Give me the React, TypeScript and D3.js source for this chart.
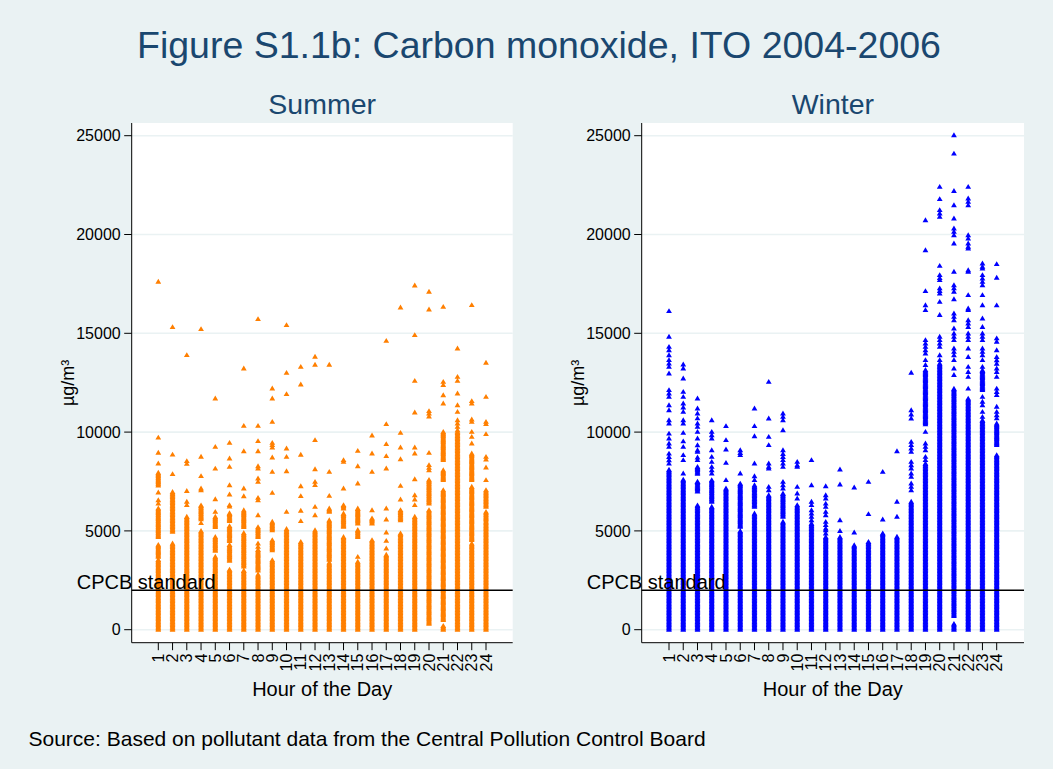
import React from 'react';
import * as d3 from 'd3';

const W = 1053;
const H = 769;

const hours = [1, 2, 3, 4, 5, 6, 7, 8, 9, 10, 11, 12, 13, 14, 15, 16, 17, 18, 19, 20, 21, 22, 23, 24];
const yTicks = [0, 5000, 10000, 15000, 20000, 25000];
const cpcbStandard = 2000;

// Summer: continuous (densely overplotted) value ranges per hour, and isolated readings
const summerDense: number[][][] = [
  [[0, 3550], [3700, 4300], [4700, 6150], [7300, 7950]],
  [[0, 4370], [4960, 6980]],
  [[0, 5720]],
  [[0, 5000], [5600, 6300]],
  [[0, 3700], [4000, 4700], [5200, 5720]],
  [[0, 3050], [3500, 4300], [4500, 5250], [5500, 5900]],
  [[0, 3000], [3200, 4900], [5200, 6050]],
  [[0, 2800], [3000, 4050], [4700, 5200]],
  [[0, 3530], [4030, 4540], [5040, 5470]],
  [[0, 5100]],
  [[0, 4450]],
  [[0, 5040]],
  [[0, 3400], [3550, 5550], [5970, 6140]],
  [[0, 4700], [5210, 5890], [6140, 6310]],
  [[0, 3450], [4700, 5050], [5380, 6140]],
  [[0, 4540], [5380, 5640]],
  [[0, 3800]],
  [[0, 4880], [5550, 6060]],
  [[0, 5720]],
  [[300, 6060], [6390, 7590]],
  [[0, 200], [500, 7070], [7575, 8080], [8590, 10020]],
  [[0, 10020]],
  [[0, 4370], [4540, 7240], [7575, 8924]],
  [[0, 5470], [5550, 5970], [6225, 7070]],
];
const summerPoints: number[][] = [
  [17614, 9730, 8960, 8420, 6950, 6560, 6390],
  [15320, 8870, 7880],
  [13904, 8540, 8400, 7030, 6480, 6310],
  [15220, 8760, 7780, 7150, 7060, 5400],
  [11710, 9260, 8160, 6610, 5970],
  [9460, 8670, 8250, 7320, 6850, 6310, 6240],
  [13230, 10325, 9040, 7150, 6760],
  [15726, 10325, 9550, 9040, 8280, 8160, 7660, 7490, 6680, 6560, 5800, 4370, 4200],
  [12214, 11708, 10527, 9464, 9346, 9228, 8722, 7997, 6934],
  [15422, 13007, 11927, 9177, 8755, 8030, 5972],
  [13310, 12416, 8860, 7271, 6765, 6030, 5500],
  [13818, 13413, 9600, 8131, 7490, 7322, 6225, 5803],
  [13413, 7997, 6782],
  [8587, 8503, 7153],
  [9059, 8283, 7406, 3694],
  [9835, 8924, 7997, 6056],
  [14626, 10409, 9397, 8790, 8165, 6141, 5584, 4926, 4505, 4117],
  [16313, 9970, 9228, 8637, 7288, 6596],
  [17430, 14913, 12602, 10999, 9228, 8924, 7625, 6815, 6600, 6310],
  [17110, 16212, 11067, 10950, 10800, 8958, 8334, 8200, 8080],
  [16347, 12551, 12383, 11876, 11455],
  [14238, 12804, 12602, 11961, 11370, 11033, 10611, 10442, 10270, 10105],
  [16431, 11573, 11455, 10645, 10527, 10021, 9768, 9430],
  [13515, 11792, 10527, 10409, 9903, 8755, 8620, 8215, 7575],
];

// Winter
const winterDense: number[][][] = [
  [[0, 8100]],
  [[0, 7600]],
  [[0, 6300], [7000, 7500], [7900, 8250]],
  [[0, 6230], [6480, 7575]],
  [[0, 7150]],
  [[0, 5000], [5210, 7400]],
  [[0, 5890], [6225, 7320]],
  [[0, 6815]],
  [[0, 5470], [5720, 6900]],
  [[0, 6310]],
  [[0, 5380]],
  [[0, 4700]],
  [[0, 4700]],
  [[0, 4280]],
  [[0, 4450]],
  [[0, 4880]],
  [[0, 4710]],
  [[0, 6480]],
  [[0, 8420], [10400, 13150]],
  [[0, 13480]],
  [[0, 300], [700, 12200]],
  [[0, 11700]],
  [[0, 10610], [12130, 13140]],
  [[0, 8840], [9350, 10440]],
];
const winterPoints: number[][] = [
  [16130, 14830, 14320, 14150, 13900, 13650, 13475, 13310, 12970, 12130, 11960, 11790, 11370, 11117, 10610, 10440, 9930, 9680, 9430, 9260, 8920, 8750, 8580, 8410],
  [13430, 13230, 12720, 12045, 11790, 11455, 11250, 11033, 10610, 10440, 9967, 9540, 9260, 8840, 8587, 7912],
  [11710, 11200, 10950, 10700, 10440, 10270, 10020, 9680, 9345, 9090, 9010, 8720, 8590],
  [10610, 10020, 9850, 9680, 9090, 8755, 8500, 8250, 8080, 7910],
  [10310, 9600, 9130, 8450, 7575],
  [9090, 8950, 8840, 7910],
  [11200, 10310, 9800, 8420, 7777, 7575],
  [12550, 10695, 9768, 9346, 8418, 8250, 8165, 7237, 7068],
  [10950, 10780, 10610, 10100, 9090, 8900, 8750, 8590, 8420, 8250, 7490, 7320, 7150],
  [8500, 8330, 8250, 7237, 6900, 6650],
  [8590, 7320, 6480, 6310, 6056, 5890, 5720, 5550],
  [7270, 6815, 6650, 6390, 6225, 5972, 5803, 5466, 5300, 5128, 5044, 4875],
  [8115, 7355, 5550, 5000],
  [7203, 4926],
  [7490, 5854],
  [7996, 5584],
  [9040, 6480, 5720],
  [13010, 11117, 10900, 10695, 9515, 9350, 9180, 9009, 8500, 8330, 8165, 7912, 7743, 7406, 7237, 7068],
  [20730, 19210, 17140, 16430, 16180, 14660, 14490, 14320, 14150, 13985, 13650, 13400, 10020, 9430, 9260, 9090, 8755, 8587],
  [22420, 21800, 21240, 21070, 20900, 18420, 17950, 17800, 17700, 17280, 17150, 17020, 16600, 15930, 14830, 14660, 14490, 14320, 13900, 13650],
  [25030, 24100, 22210, 21490, 20820, 20310, 20140, 19970, 19550, 18120, 17440, 17280, 17110, 16730, 16010, 15840, 15670, 15250, 15000, 14830, 14660, 14240, 14070, 13900, 13650, 13226, 12900],
  [22420, 21830, 21660, 21490, 19970, 19800, 19550, 19380, 19300, 18200, 18120, 16940, 16260, 16180, 15670, 15500, 15330, 15000, 14830, 14660, 14240, 13810, 13310, 13050, 12800, 12210],
  [18540, 18370, 18290, 17950, 17780, 17610, 17440, 16940, 16430, 15760, 15330, 15000, 14830, 14660, 14240, 14070, 13900, 13650, 13310, 11790, 11540, 11370, 11030, 10780],
  [18510, 17820, 16420, 14750, 14580, 14150, 13810, 13640, 13470, 13230, 13050, 12800, 12210, 12040, 11880, 11290, 11030, 10860, 10700],
];

const FONT = '"Liberation Sans", Arial, Helvetica, sans-serif';
const BG = '#EAF2F3';
const GRID = '#EAF2F3';

const PLOT_TOP = 123;
const PLOT_BOTTOM = 642.7;
const y = d3.scaleLinear().domain([0, 25000]).range([629.7, 135.7]);

const TRI_HW = 2.9;
const TRI_UP = 2.8;
const TRI_DN = 2.1;
const tri = (cx: number, cy: number) =>
  `M${cx.toFixed(2)},${(cy - TRI_UP).toFixed(2)}L${(cx + TRI_HW).toFixed(2)},${(cy + TRI_DN).toFixed(2)}L${(cx - TRI_HW).toFixed(2)},${(cy + TRI_DN).toFixed(2)}Z`;

interface PanelProps {
  left: number;
  right: number;
  firstX: number;
  lastX: number;
  title: string;
  dense: number[][][];
  points: number[][];
  color: string;
}

function Panel({ left, right, firstX, lastX, title, dense, points, color }: PanelProps) {
  const x = d3.scaleLinear().domain([1, 24]).range([firstX, lastX]);
  const center = (left + right) / 2;
  let d = '';
  hours.forEach((h, i) => {
    const cx = x(h);
    dense[i].forEach(([lo, hi]) => {
      const y0 = y(lo);
      const y1 = y(hi);
      for (let py = y0; py >= y1; py -= 1.2) d += tri(cx, py);
      d += tri(cx, y1);
    });
    points[i].forEach((v) => {
      d += tri(cx, y(v));
    });
  });
  const ys = y(cpcbStandard);
  return (
    <g>
      <rect x={left} y={PLOT_TOP} width={right - left} height={PLOT_BOTTOM - PLOT_TOP} fill="#FFFFFF" />
      {yTicks.map((t) => (
        <line key={'g' + t} x1={left} x2={right} y1={y(t)} y2={y(t)} stroke={GRID} strokeWidth={1.6} />
      ))}
      <path d={d} fill={color} />
      <line x1={left} x2={right} y1={ys} y2={ys} stroke="#000" strokeWidth={1.4} />
      <text x={left - 55} y={ys - 1.5} fontFamily={FONT} fontSize={20} fill="#000">
        CPCB standard
      </text>
      <line x1={left} x2={left} y1={PLOT_TOP} y2={PLOT_BOTTOM} stroke="#000" strokeWidth={1} />
      <line x1={left} x2={right} y1={PLOT_BOTTOM} y2={PLOT_BOTTOM} stroke="#000" strokeWidth={1} />
      {yTicks.map((t) => (
        <g key={'t' + t}>
          <line x1={left - 7.5} x2={left} y1={y(t)} y2={y(t)} stroke="#000" strokeWidth={1} />
          <text x={left - 11} y={y(t)} dy="0.35em" textAnchor="end" fontFamily={FONT} fontSize={16} fill="#000">
            {t}
          </text>
        </g>
      ))}
      {hours.map((h) => (
        <g key={'x' + h}>
          <line x1={x(h)} x2={x(h)} y1={PLOT_BOTTOM} y2={PLOT_BOTTOM + 7.5} stroke="#000" strokeWidth={1} />
          <text
            transform={`translate(${x(h)},${PLOT_BOTTOM + 11}) rotate(-90)`}
            textAnchor="end"
            dy="0.35em"
            fontFamily={FONT}
            fontSize={16}
            fill="#000"
          >
            {h}
          </text>
        </g>
      ))}
      <text x={center} y={696} textAnchor="middle" fontFamily={FONT} fontSize={20} fill="#000">
        Hour of the Day
      </text>
      <text
        transform={`translate(${left - 58},${(PLOT_TOP + PLOT_BOTTOM) / 2}) rotate(-90)`}
        textAnchor="middle"
        fontFamily={FONT}
        fontSize={18}
        fill="#000"
      >
        µg/m³
      </text>
      <text x={center} y={114} textAnchor="middle" fontFamily={FONT} fontSize={28.5} fill="#1a476f">
        {title}
      </text>
    </g>
  );
}

export default function App() {
  return (
    <div style={{ position: 'absolute', left: 0, top: 0, width: W, height: H }}>
      <svg width={W} height={H} viewBox={`0 0 ${W} ${H}`} style={{ display: 'block' }}>
        <rect x={0} y={0} width={W} height={H} fill={BG} />
        <text x={539} y={58} textAnchor="middle" fontFamily={FONT} fontSize={37.5} fill="#1a476f">
          Figure S1.1b: Carbon monoxide, ITO 2004-2006
        </text>
        <Panel left={131.7} right={512.7} firstX={158.3} lastX={486} title="Summer" dense={summerDense} points={summerPoints} color="#FF7F00" />
        <Panel left={641.7} right={1024} firstX={669} lastX={996.7} title="Winter" dense={winterDense} points={winterPoints} color="#0000FF" />
        <text x={28.5} y={746} fontFamily={FONT} fontSize={21} fill="#000">
          Source: Based on pollutant data from the Central Pollution Control Board
        </text>
      </svg>
    </div>
  );
}
